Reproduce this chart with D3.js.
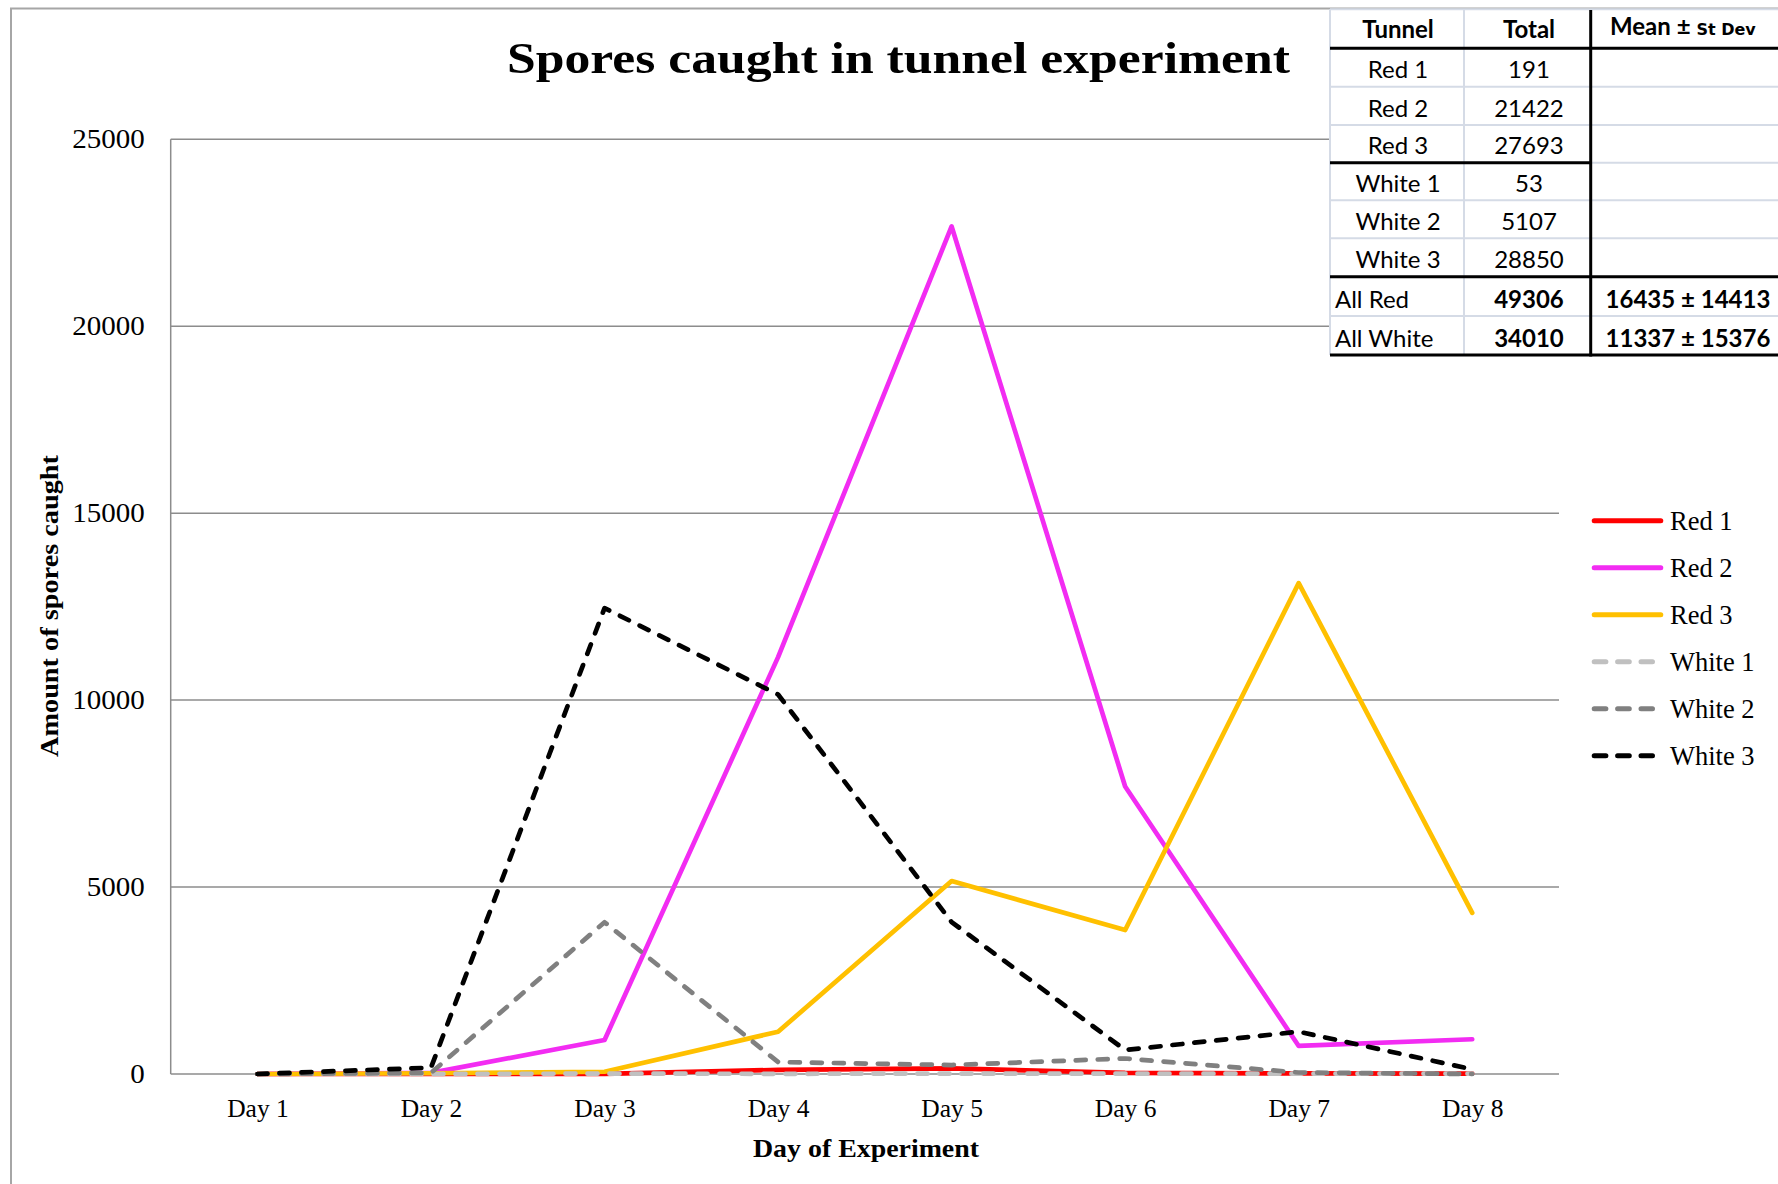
<!DOCTYPE html>
<html>
<head>
<meta charset="utf-8">
<script src="https://cdn.jsdelivr.net/npm/d3@7/dist/d3.min.js"></script>
<style>
  html, body { margin: 0; padding: 0; background: #ffffff; }
  svg { display: block; }
</style>
</head>
<body>
<svg id="chart" width="1778" height="1184"></svg>
<script>
// ---------------- DATA ----------------
const days = ["Day 1", "Day 2", "Day 3", "Day 4", "Day 5", "Day 6", "Day 7", "Day 8"];
const red1   = [0, 0, 5, 110, 150, 30, 15, 10];
const red2   = [0, 30, 909, 11150, 22670, 7690, 750, 930];
const red3   = [0, 20, 60, 1130, 5160, 3850, 13130, 4310];
const white1 = [0, 0, 10, 5, 10, 8, 10, 10];
const white2 = [0, 30, 4060, 320, 240, 415, 40, 0];
const white3 = [0, 170, 12460, 10150, 4064, 642, 1131, 125];
const seriesNames = ["Red 1", "Red 2", "Red 3", "White 1", "White 2", "White 3"];
const yTicks = [0, 5000, 10000, 15000, 20000, 25000];

const tableTunnels = ["Red 1", "Red 2", "Red 3", "White 1", "White 2", "White 3", "All Red", "All White"];
const tableTotals  = ["191", "21422", "27693", "53", "5107", "28850", "49306", "34010"];
const tableMeans   = ["", "", "", "", "", "", "16435 \u00B1 14413", "11337 \u00B1 15376"];

// ---------------- STYLE ----------------
const styles = [
  { color: "#ff0000", dash: null },
  { color: "#f22cf2", dash: null },
  { color: "#ffc000", dash: null },
  { color: "#c0c0c0", dash: "10,12" },
  { color: "#808080", dash: "10,12" },
  { color: "#000000", dash: "10,12" }
];
const allSeries = [red1, red2, red3, white1, white2, white3];

const svg = d3.select("#chart");
const serif = "'Liberation Serif', 'DejaVu Serif', serif";
const sans = "Lato, 'Open Sans', 'Liberation Sans', sans-serif";

// outer chart border
svg.append("rect")
  .attr("x", 11).attr("y", 8.5).attr("width", 1800).attr("height", 1200)
  .attr("fill", "#ffffff").attr("stroke", "#a6a6a6").attr("stroke-width", 2);

// scales
const plotLeft = 170.7, plotRight = 1559, plotTop = 139.3, plotBottom = 1074;
const x = d3.scalePoint().domain(days).range([plotLeft, plotRight]).padding(0.5);
const y = d3.scaleLinear().domain([0, 25000]).range([plotBottom, plotTop]);

// gridlines
svg.append("g").selectAll("line")
  .data(yTicks.filter(d => d > 0))
  .join("line")
  .attr("x1", plotLeft).attr("x2", plotRight)
  .attr("y1", d => y(d)).attr("y2", d => y(d))
  .attr("stroke", "#8c8c8c").attr("stroke-width", 1.5);

// axes lines
svg.append("line").attr("x1", plotLeft).attr("x2", plotLeft)
  .attr("y1", plotTop).attr("y2", plotBottom)
  .attr("stroke", "#8c8c8c").attr("stroke-width", 1.5);
svg.append("line").attr("x1", plotLeft).attr("x2", plotRight)
  .attr("y1", plotBottom).attr("y2", plotBottom)
  .attr("stroke", "#8c8c8c").attr("stroke-width", 1.5);

// y axis
const yAxis = svg.append("g")
  .attr("transform", `translate(${plotLeft},0)`)
  .call(d3.axisLeft(y).tickValues(yTicks).tickSize(0).tickPadding(26).tickFormat(d3.format("d")));
yAxis.select(".domain").remove();
yAxis.selectAll("text").attr("font-family", serif).attr("font-size", 27).attr("fill", "#000")
  .attr("textLength", d => String(d).length * 14.5).attr("lengthAdjust", "spacingAndGlyphs");

// x axis
const xAxis = svg.append("g")
  .attr("transform", `translate(0,${plotBottom})`)
  .call(d3.axisBottom(x).tickSize(0));
xAxis.select(".domain").remove();
xAxis.selectAll("text")
  .attr("y", 43).attr("dy", 0)
  .attr("font-family", serif).attr("font-size", 25.5).attr("fill", "#000");

// lines
const line = d3.line().x((d, i) => x(days[i])).y(d => y(d));
svg.append("g").selectAll("path")
  .data(allSeries)
  .join("path")
  .attr("d", d => line(d))
  .attr("fill", "none")
  .attr("stroke", (d, i) => styles[i].color)
  .attr("stroke-width", 4.7)
  .attr("stroke-linejoin", "round")
  .attr("stroke-linecap", "round")
  .attr("stroke-dasharray", (d, i) => styles[i].dash);

// title
svg.append("text")
  .attr("x", 507).attr("y", 73)
  .attr("font-family", serif).attr("font-weight", "bold").attr("font-size", 45)
  .attr("textLength", 783).attr("lengthAdjust", "spacingAndGlyphs")
  .text("Spores caught in tunnel experiment");

// axis titles
svg.append("text")
  .attr("x", 866).attr("y", 1157).attr("text-anchor", "middle")
  .attr("font-family", serif).attr("font-weight", "bold").attr("font-size", 26)
  .attr("textLength", 226).attr("lengthAdjust", "spacingAndGlyphs")
  .text("Day of Experiment");
svg.append("text")
  .attr("transform", "translate(58,606) rotate(-90)")
  .attr("text-anchor", "middle")
  .attr("font-family", serif).attr("font-weight", "bold").attr("font-size", 26)
  .attr("textLength", 302).attr("lengthAdjust", "spacingAndGlyphs")
  .text("Amount of spores caught");

// legend
const legend = svg.append("g");
const legY0 = 520.7, legStep = 47;
seriesNames.forEach((name, i) => {
  const gy = legY0 + i * legStep;
  const st = styles[i];
  legend.append("line")
    .attr("x1", 1594.2).attr("x2", st.dash ? 1652.5 : 1660.8)
    .attr("y1", gy).attr("y2", gy)
    .attr("stroke", st.color).attr("stroke-width", 5)
    .attr("stroke-linecap", "round")
    .attr("stroke-dasharray", st.dash ? "11.7,11.7" : null);
  legend.append("text")
    .attr("x", 1670).attr("y", gy + 9.5)
    .attr("font-family", serif).attr("font-size", 26.5).attr("fill", "#000")
    .text(name);
});

// table
const tbl = svg.append("g");
const tX = [1330, 1464, 1590.7, 1800];
const tY = [9.3, 48.3, 86.7, 125, 162.7, 200.3, 238.3, 276.7, 316, 355];
const gridC = "#d5dbe6";
tbl.append("rect").attr("x", tX[0]).attr("y", tY[0])
  .attr("width", tX[3] - tX[0]).attr("height", tY[9] - tY[0])
  .attr("fill", "#ffffff");
// light grid lines
tY.forEach(v => tbl.append("line").attr("x1", tX[0]).attr("x2", tX[3])
  .attr("y1", v).attr("y2", v).attr("stroke", gridC).attr("stroke-width", 2));
tX.slice(0, 2).forEach(v => tbl.append("line").attr("x1", v).attr("x2", v)
  .attr("y1", tY[0]).attr("y2", tY[9]).attr("stroke", gridC).attr("stroke-width", 2));
// thick black lines
const thick = (x1, y1, x2, y2) => tbl.append("line")
  .attr("x1", x1).attr("y1", y1).attr("x2", x2).attr("y2", y2)
  .attr("stroke", "#000").attr("stroke-width", 3);
thick(tX[0], tY[1], tX[3], tY[1]);
thick(tX[0], tY[4], tX[2], tY[4]);
thick(tX[0], tY[7], tX[3], tY[7]);
thick(tX[0], tY[9], tX[3], tY[9]);
thick(tX[2], 10, tX[2], tY[9] + 1.5);

// header
tbl.append("text").attr("x", 1398).attr("y", 38.3).attr("text-anchor", "middle")
  .attr("font-family", sans).attr("font-weight", "bold").attr("font-size", 24)
  .text("Tunnel");
tbl.append("text").attr("x", 1529).attr("y", 38.3).attr("text-anchor", "middle")
  .attr("font-family", sans).attr("font-weight", "bold").attr("font-size", 24)
  .text("Total");
const hdr = tbl.append("text").attr("x", 1610).attr("y", 35)
  .attr("font-family", sans).attr("font-weight", "bold").attr("font-size", 24);
hdr.append("tspan").text("Mean \u00B1 ");
hdr.append("tspan").attr("font-family", "'DejaVu Sans', sans-serif")
  .attr("font-size", 16).text("St Dev");

// body rows
tableTunnels.forEach((name, i) => {
  const baseY = tY[i + 2] - 8.4;
  const isAll = i >= 6;
  tbl.append("text")
    .attr("x", isAll ? 1335 : 1398).attr("y", baseY)
    .attr("text-anchor", isAll ? "start" : "middle")
    .attr("font-family", sans).attr("font-size", 24).attr("fill", "#000")
    .text(name);
  tbl.append("text")
    .attr("x", 1529).attr("y", baseY).attr("text-anchor", "middle")
    .attr("font-family", sans).attr("font-size", 24)
    .attr("font-weight", isAll ? "bold" : "normal").attr("fill", "#000")
    .text(tableTotals[i]);
  if (tableMeans[i]) {
    tbl.append("text")
      .attr("x", 1688).attr("y", baseY).attr("text-anchor", "middle")
      .attr("font-family", sans).attr("font-size", 24).attr("font-weight", "bold")
      .attr("fill", "#000")
      .text(tableMeans[i]);
  }
});
</script>
</body>
</html>
